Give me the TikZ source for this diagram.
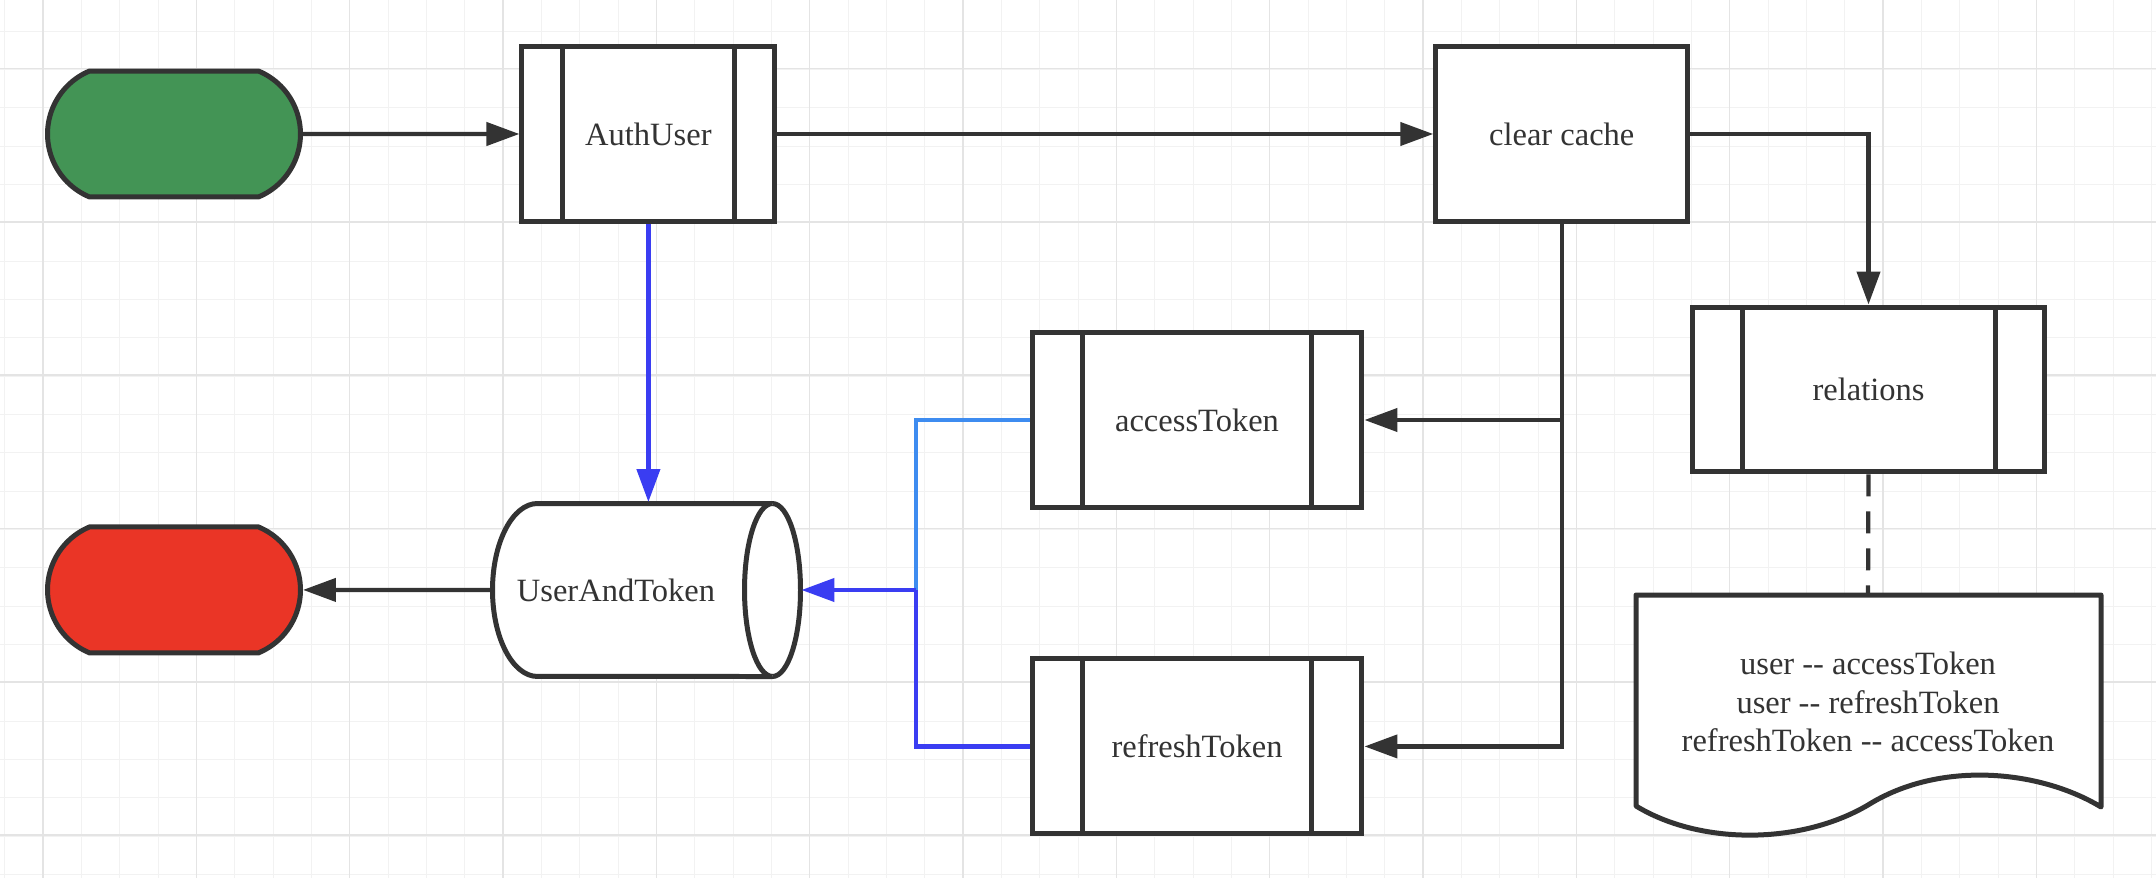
\documentclass[tikz,border=0pt]{standalone}
\usepackage{fontspec}
\setmainfont{Liberation Serif}
\usepackage{tikz}
\usetikzlibrary{shapes.misc, arrows.meta, positioning}

\definecolor{darkline}{HTML}{333333}
\definecolor{startgreen}{HTML}{439455}
\definecolor{stopred}{HTML}{EA3526}
\definecolor{flowblue}{HTML}{3A3DF2}
\definecolor{lightblue}{HTML}{3E8CF0}
\definecolor{gridminor}{HTML}{F2F2F2}
\definecolor{gridmajor}{HTML}{E4E4E4}

\tikzstyle{minorgrid} = [gridminor, line width=0.5pt]
\tikzstyle{majorgrid} = [gridmajor, line width=0.8pt]
\tikzstyle{terminal} = [draw=darkline, line width=1mm, rounded rectangle, rounded rectangle arc length=135, minimum width=5.06cm, minimum height=2.52cm, inner sep=0pt]
\tikzstyle{block} = [draw=darkline, fill=white, rectangle, line width=1mm, text=darkline, inner sep=0pt]
\tikzstyle{outline} = [draw=darkline, fill=white, line width=1mm, line join=round]
\tikzstyle{conn} = [darkline, line width=0.85mm]
\tikzstyle{blueconn} = [flowblue, line width=0.85mm]
\tikzstyle{lightconn} = [lightblue, line width=0.85mm]
\tikzset{subproc/.style={block, path picture={
    \draw[darkline, line width=1mm] ([xshift=#1]path picture bounding box.north west) -- ([xshift=#1]path picture bounding box.south west)
        ([xshift=-#1]path picture bounding box.north east) -- ([xshift=-#1]path picture bounding box.south east);}}}

\begin{document}
\begin{tikzpicture}[>={Triangle[length=6.6mm,width=4.6mm]}, x=0.02cm, y=-0.02cm, font=\fontsize{18.5}{21.9}\selectfont]
    \fill[white] (0,0) rectangle (2156,878);
    \useasboundingbox (0,0) rectangle (2156,878);
    \foreach \i in {0,...,56} \draw[minorgrid] ({4.7+38.333*\i},0) -- ++(0,878);
    \foreach \j in {0,...,22} \draw[minorgrid] (0,{31+38.333*\j}) -- ++(2156,0);
    \foreach \i in {0,...,13} \draw[majorgrid] ({43+153.33*\i},0) -- ++(0,878);
    \foreach \j in {0,...,5} \draw[majorgrid] (0,{68.5+153.33*\j}) -- ++(2156,0);

    \node[terminal, fill=startgreen] (start) at (174,134) {};
    \node[subproc=0.81cm, right of=start, node distance=9.49cm, minimum width=5.06cm, minimum height=3.5cm] (authuser) {AuthUser};
    \node[block, right of=authuser, node distance=18.27cm, minimum width=5.04cm, minimum height=3.5cm] (clearcache) {clear cache};
    \node[subproc=1cm, minimum width=7.06cm, minimum height=3.3cm] (relations) at (1868.5,389.5) {relations};
    \node[subproc=1cm, minimum width=6.6cm, minimum height=3.52cm] (access) at (1197,420) {accessToken};
    \node[subproc=1cm, below of=access, node distance=6.53cm, minimum width=6.6cm, minimum height=3.5cm] (refresh) {refreshToken};
    \node[terminal, fill=stopred, below of=start, node distance=9.12cm] (stop) {};

    \draw[outline] (772.5,503.5) -- (537.5,503.5) arc[start angle=90, end angle=270, x radius=0.9cm, y radius=1.73cm]
        -- (772.5,676.5) arc[start angle=-90, end angle=90, x radius=0.56cm, y radius=1.73cm] -- cycle;
    \draw[outline] (772.5,503.5) arc[start angle=90, end angle=270, x radius=0.56cm, y radius=1.73cm];
    \node[minimum width=6.2cm, minimum height=3.52cm, inner sep=0pt, outer sep=0pt, text=darkline] (db) at (646.5,590) {\hspace*{-1.22cm}UserAndToken};
    \coordinate (merge) at (916,590);

    \draw[outline] (1636,595) -- (2101,595) -- (2101,807)
        .. controls (2040,770) and (1940,760) .. (1868,805)
        .. controls (1800,845) and (1700,845) .. (1636,806) -- cycle;
    \node[align=center, text=darkline, minimum width=9.3cm, minimum height=4.36cm, outer sep=0pt] (doc) at (1868,702)
        {user -\kern0pt- accessToken\\user -\kern0pt- refreshToken\\refreshToken -\kern0pt- accessToken};

    \draw[conn, ->] (start) -- (authuser);
    \draw[conn, ->] (authuser) -- (clearcache);
    \draw[conn, ->] (clearcache.east) -| (relations.north);
    \draw[blueconn, ->] (authuser.south) -- (authuser.south |- db.north);
    \draw[conn, ->] (clearcache.south) |- (refresh.east);
    \draw[conn, ->] (clearcache.south |- access.east) -- (access.east);
    \draw[lightconn] (access.west) -| (merge);
    \draw[blueconn] (refresh.west) -| (merge);
    \draw[blueconn, ->] (merge) -- (merge -| db.east);
    \draw[conn, ->] (db.west) -- (stop.east);
    \draw[conn, dash pattern=on 4.4mm off 3mm] (relations.south) -- (doc.north);
\end{tikzpicture}
\end{document}
